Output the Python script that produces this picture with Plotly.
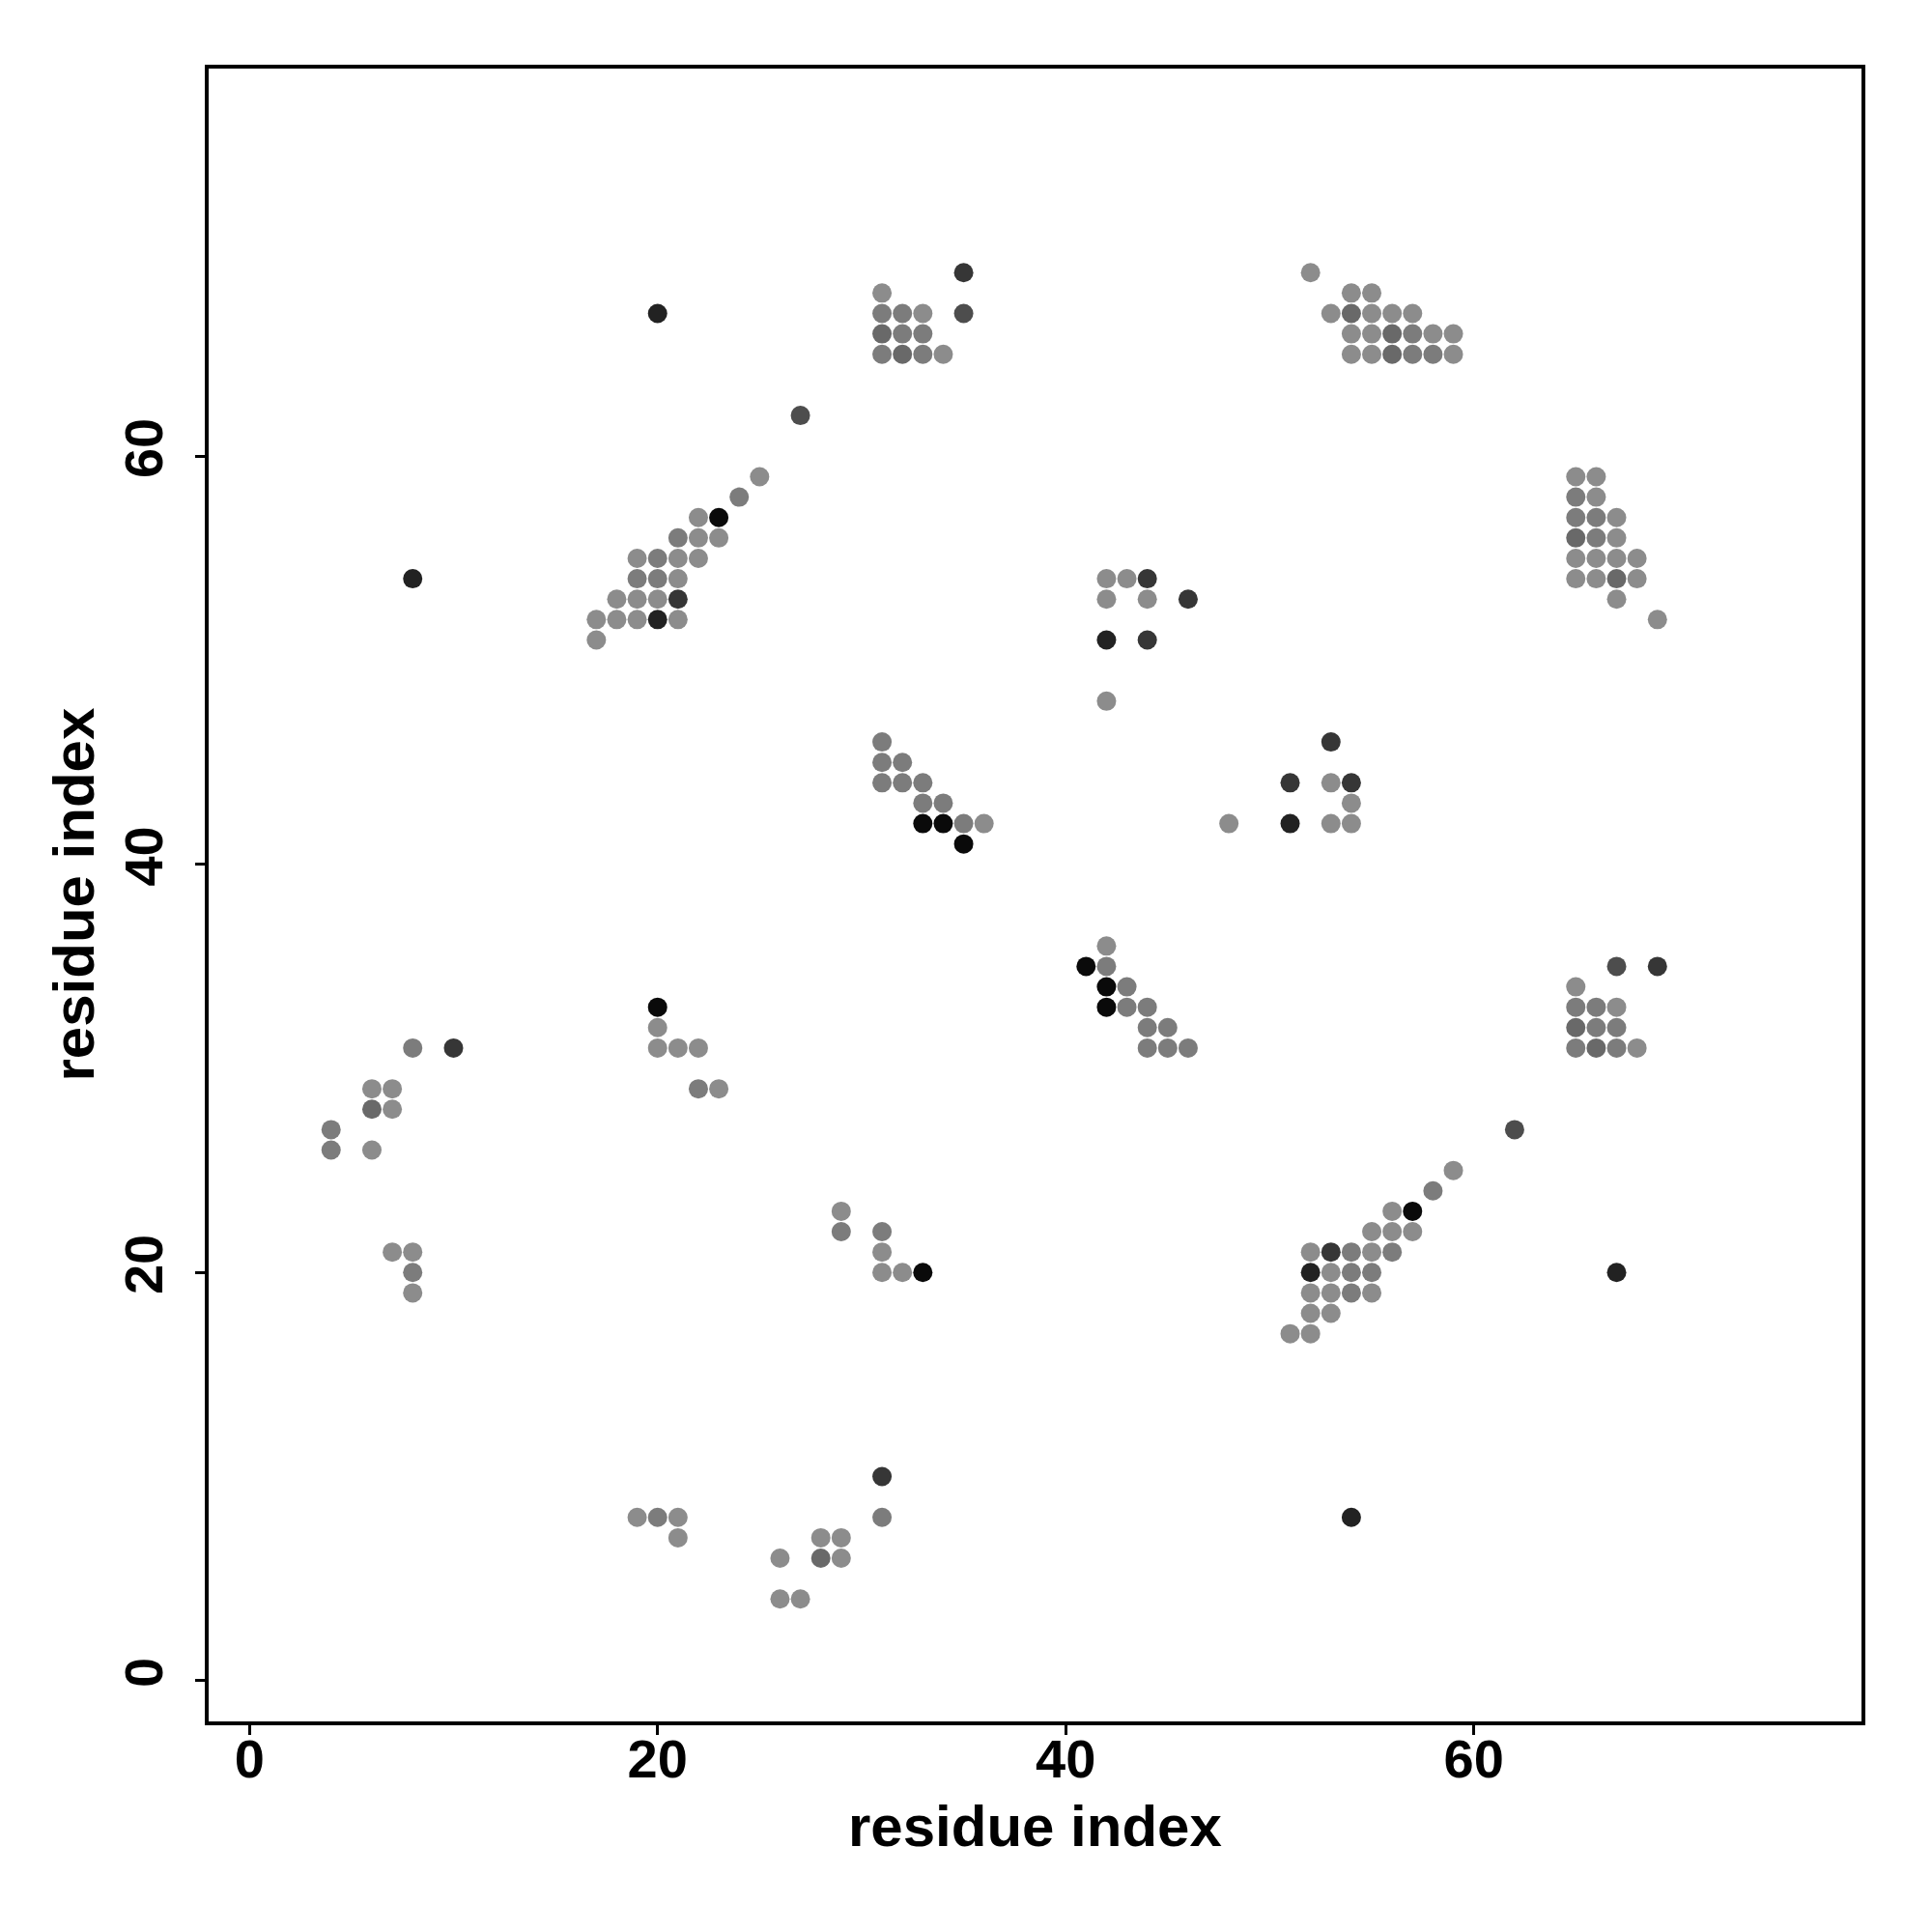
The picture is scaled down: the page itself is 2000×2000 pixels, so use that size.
import plotly.graph_objects as go

# Contact map: residue pairs (i, j) and agreement level (1 = faint ... 7 = strongest)
residue_i = [
    # cluster near (20, 53)
    27, 25, 24, 22, 23, 21, 22, 23, 19, 20, 21, 22, 19, 20, 21, 18, 19, 20, 21, 17, 18, 19, 20, 21, 17,
    62, 59, 58, 57, 57, 56, 56, 56, 55, 55, 55, 55, 54, 54, 54, 53, 53, 53, 53, 52, 52, 52, 52, 52, 51,
    # cluster near (32, 66)
    20, 35, 31, 31, 32, 33, 35, 31, 32, 33, 31, 32, 33, 34,
    67, 69, 68, 67, 67, 67, 67, 66, 66, 66, 65, 65, 65, 65,
    # cluster near (56, 66)
    52, 54, 55, 53, 54, 55, 56, 57, 54, 55, 56, 57, 58, 59, 54, 55, 56, 57, 58, 59,
    69, 68, 68, 67, 67, 67, 67, 67, 66, 66, 66, 66, 66, 66, 65, 65, 65, 65, 65, 65,
    # cluster near (43, 52)
    42, 43, 44, 42, 44, 46, 42, 44, 42,
    54, 54, 54, 53, 53, 53, 51, 51, 48,
    # cluster near (33, 43)
    31, 31, 32, 31, 32, 33, 33, 34, 33, 34, 35, 36, 35,
    46, 45, 45, 44, 44, 44, 43, 43, 42, 42, 42, 42, 41,
    # cluster near (7, 27)
    8, 10, 6, 7, 6, 7, 4, 4, 6, 7, 8, 8, 8,
    31, 31, 29, 29, 28, 28, 27, 26, 26, 21, 21, 20, 19,
    # cluster near (21, 31)
    20, 20, 20, 21, 22, 22, 23,
    33, 32, 31, 31, 31, 29, 29,
    # isolated
    8, 54,
]

residue_j = [
    62, 59, 58, 57, 57, 56, 56, 56, 55, 55, 55, 55, 54, 54, 54, 53, 53, 53, 53, 52, 52, 52, 52, 52, 51,
    27, 25, 24, 22, 23, 21, 22, 23, 19, 20, 21, 22, 19, 20, 21, 18, 19, 20, 21, 17, 18, 19, 20, 21, 17,
    67, 69, 68, 67, 67, 67, 67, 66, 66, 66, 65, 65, 65, 65,
    20, 35, 31, 31, 32, 33, 35, 31, 32, 33, 31, 32, 33, 34,
    69, 68, 68, 67, 67, 67, 67, 67, 66, 66, 66, 66, 66, 66, 65, 65, 65, 65, 65, 65,
    52, 54, 55, 53, 54, 55, 56, 57, 54, 55, 56, 57, 58, 59, 54, 55, 56, 57, 58, 59,
    54, 54, 54, 53, 53, 53, 51, 51, 48,
    42, 43, 44, 42, 44, 46, 42, 44, 42,
    46, 45, 45, 44, 44, 44, 43, 43, 42, 42, 42, 42, 41,
    31, 31, 32, 31, 32, 33, 33, 34, 33, 34, 35, 36, 35,
    31, 31, 29, 29, 28, 28, 27, 26, 26, 21, 21, 20, 19,
    8, 10, 6, 7, 6, 7, 4, 4, 6, 7, 8, 8, 8,
    33, 32, 31, 31, 31, 29, 29,
    20, 20, 20, 21, 22, 22, 23,
    54, 8,
]

agreement = [
    4, 1, 2, 1, 7, 2, 1, 1, 1, 2, 1, 1, 2, 2, 1, 1, 1, 1, 5, 1, 1, 1, 6, 1, 1,
    4, 1, 2, 1, 7, 2, 1, 1, 1, 2, 1, 1, 2, 2, 2, 1, 1, 1, 5, 1, 1, 1, 6, 1, 1,
    6, 5, 1, 2, 2, 1, 4, 3, 2, 2, 2, 3, 2, 1,
    6, 5, 1, 2, 2, 1, 4, 3, 2, 2, 2, 3, 2, 1,
    1, 1, 1, 1, 3, 1, 1, 1, 1, 1, 3, 2, 1, 1, 1, 1, 3, 2, 2, 1,
    1, 1, 1, 1, 3, 1, 1, 1, 1, 1, 2, 2, 1, 1, 1, 1, 3, 2, 2, 1,
    1, 1, 5, 1, 1, 5, 6, 5, 1,
    1, 1, 5, 1, 1, 5, 6, 5, 1,
    2, 2, 2, 2, 2, 2, 2, 2, 7, 7, 2, 1, 7,
    2, 2, 2, 2, 2, 2, 2, 2, 7, 7, 2, 1, 7,
    2, 5, 1, 1, 3, 1, 2, 2, 1, 1, 1, 2, 1,
    2, 5, 1, 1, 3, 1, 1, 1, 1, 1, 1, 2, 1,
    7, 1, 1, 1, 1, 2, 1,
    7, 1, 1, 1, 2, 2, 1,
    6, 6,
]

tick_values = [0, 20, 40, 60]
axis_title = "residue index"

gray_for_level = {
    1: "#8c8c8c", 2: "#7c7c7c", 3: "#696969", 4: "#4d4d4d",
    5: "#363636", 6: "#222222", 7: "#0a0a0a",
}
colors = [gray_for_level[a] for a in agreement]

fig = go.Figure(go.Scatter(
    x=residue_i, y=residue_j, mode="markers",
    marker=dict(size=20, color=colors, line=dict(width=0)),
    hoverinfo="skip",
))

font_family = "Liberation Sans, Arial, sans-serif"
axis_common = dict(
    range=[-2, 79], tickvals=tick_values, ticks="outside", ticklen=10, tickwidth=3,
    tickcolor="black", showline=True, mirror=True, linecolor="black", linewidth=4,
    showgrid=False, zeroline=False,
    tickfont=dict(family=font_family, size=56, color="black", weight="bold"),
)

fig.update_layout(
    width=2000, height=2000,
    margin=dict(l=208, r=81, t=63, b=226),
    plot_bgcolor="white", paper_bgcolor="white",
    showlegend=False,
    xaxis=dict(**axis_common, ticklabelstandoff=-23),
    yaxis=dict(**axis_common, tickangle=-90, ticklabelstandoff=12),
    annotations=[
        dict(text=axis_title, xref="paper", yref="paper", x=0.5, y=0,
             xanchor="center", yanchor="middle", yshift=-108, showarrow=False,
             font=dict(family=font_family, size=60, color="black", weight="bold")),
        dict(text=axis_title, xref="paper", yref="paper", x=0, y=0.5,
             xanchor="center", yanchor="middle", xshift=-140, textangle=-90, showarrow=False,
             font=dict(family=font_family, size=60, color="black", weight="bold")),
    ],
)

fig.write_html("out.html")
